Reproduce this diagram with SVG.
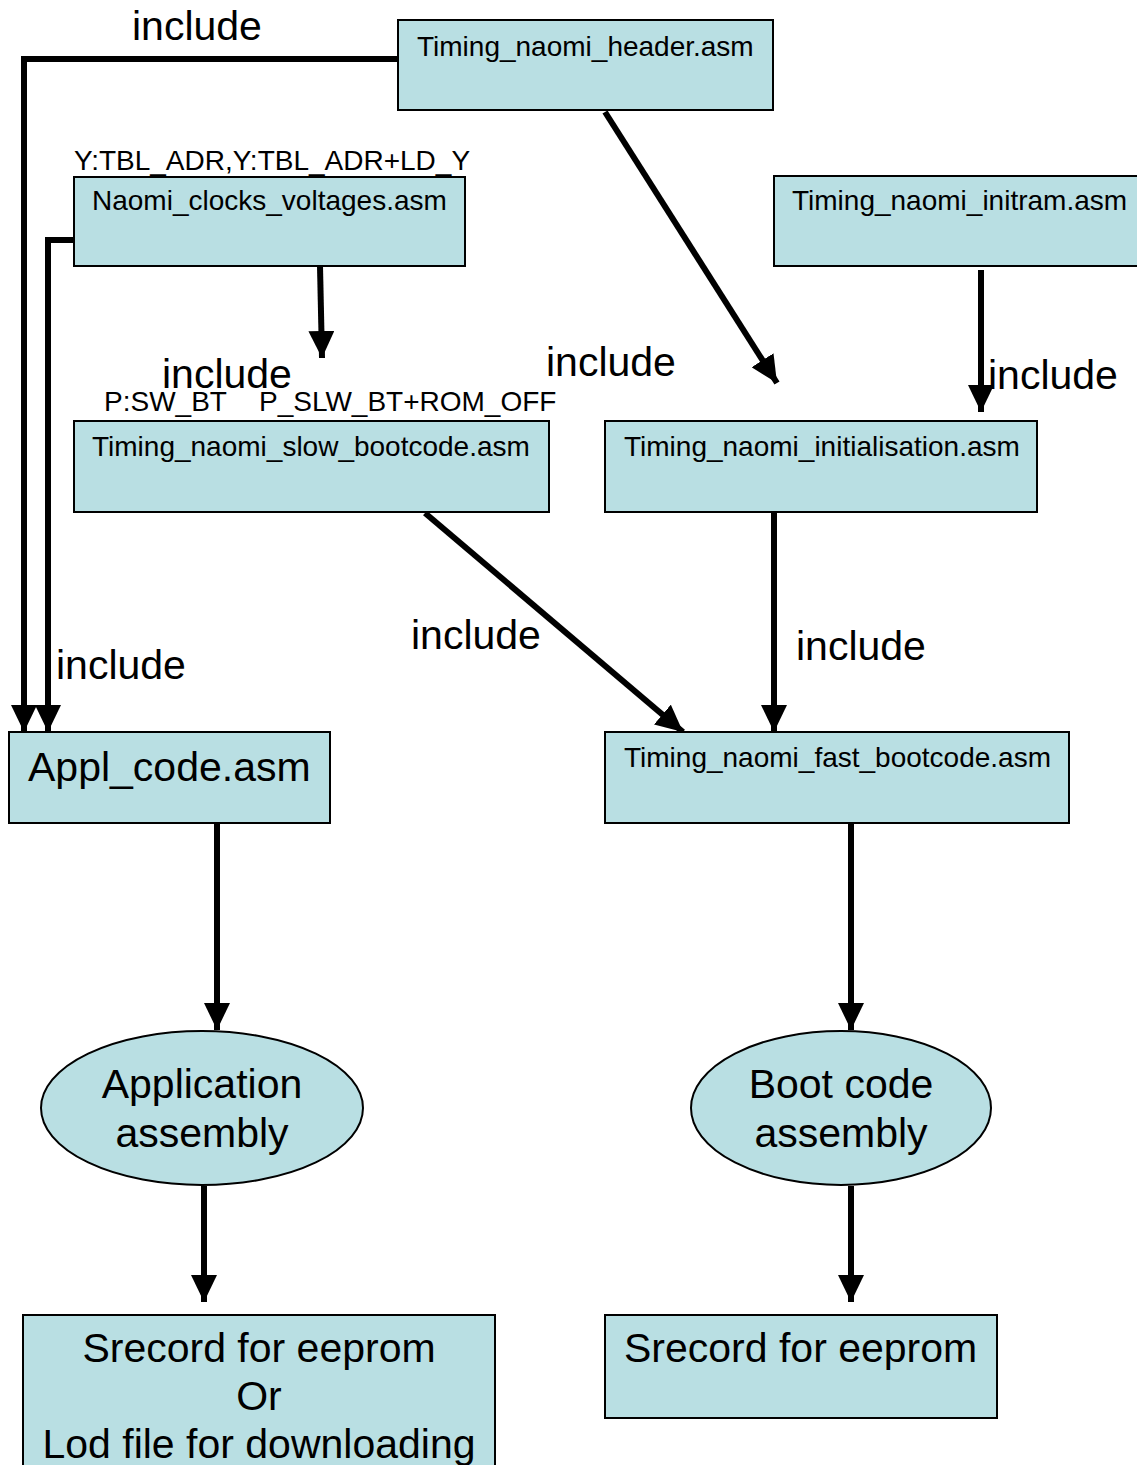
<svg xmlns="http://www.w3.org/2000/svg" width="1137" height="1465" viewBox="0 0 1137 1465">
  <style>
    .box { fill: #B9DFE3; stroke: #000; stroke-width: 2; }
    .lbl { font-family: "Liberation Sans", Arial, sans-serif; font-size: 28px; fill: #000; }
    .big { font-family: "Liberation Sans", Arial, sans-serif; font-size: 41px; fill: #000; }
    .mid { text-anchor: middle; }
    .edge { fill: none; stroke: #000; stroke-width: 6; stroke-linejoin: miter; marker-end: url(#arrow); }
  </style>
  <defs>
    <marker id="arrow" markerUnits="userSpaceOnUse" markerWidth="27" markerHeight="26" viewBox="0 0 27 26" refX="27" refY="13" orient="auto">
      <path d="M0,0 L27,13 L0,26 Z" fill="#000"/>
    </marker>
  </defs>
  <rect width="1137" height="1465" fill="#fff"/>

  <g id="connectors">
    <path class="edge" d="M398,59 H24 V732"/>
    <path class="edge" d="M74,240 H48 V732"/>
    <path class="edge" d="M320,266 L322,358"/>
    <path class="edge" d="M605,112 L777,383"/>
    <path class="edge" d="M981,270 V412"/>
    <path class="edge" d="M425,513 L683,732"/>
    <path class="edge" d="M774,513 V732"/>
    <path class="edge" d="M217,823 V1030"/>
    <path class="edge" d="M851,823 V1030"/>
    <path class="edge" d="M204,1186 V1302"/>
    <path class="edge" d="M851,1186 V1302"/>
  </g>

  <g id="edge-labels">
    <text class="big" x="132" y="40">include</text>
    <text class="big" x="162" y="388">include</text>
    <text class="big" x="546" y="376">include</text>
    <text class="big" x="988" y="389">include</text>
    <text class="big" x="411" y="649">include</text>
    <text class="big" x="796" y="660">include</text>
    <text class="big" x="56" y="679">include</text>
    <text class="lbl" x="74" y="170">Y:TBL_ADR,Y:TBL_ADR+LD_Y</text>
    <text class="lbl" x="104" y="411">P:SW_BT</text>
    <text class="lbl" x="259" y="411">P_SLW_BT+ROM_OFF</text>
  </g>

  <g id="node-header">
    <rect class="box" x="398" y="20" width="375" height="90"/>
    <text class="lbl" x="417" y="56">Timing_naomi_header.asm</text>
  </g>
  <g id="node-clocks">
    <rect class="box" x="74" y="177" width="391" height="89"/>
    <text class="lbl" x="92" y="210">Naomi_clocks_voltages.asm</text>
  </g>
  <g id="node-initram">
    <rect class="box" x="774" y="176" width="368" height="90"/>
    <text class="lbl" x="792" y="210">Timing_naomi_initram.asm</text>
  </g>
  <g id="node-slow">
    <rect class="box" x="74" y="421" width="475" height="91"/>
    <text class="lbl" x="92" y="456">Timing_naomi_slow_bootcode.asm</text>
  </g>
  <g id="node-init">
    <rect class="box" x="605" y="421" width="432" height="91"/>
    <text class="lbl" x="624" y="456">Timing_naomi_initialisation.asm</text>
  </g>
  <g id="node-appl">
    <rect class="box" x="9" y="732" width="321" height="91"/>
    <text class="big" x="28" y="781">Appl_code.asm</text>
  </g>
  <g id="node-fast">
    <rect class="box" x="605" y="732" width="464" height="91"/>
    <text class="lbl" x="624" y="767">Timing_naomi_fast_bootcode.asm</text>
  </g>
  <g id="node-app-asm">
    <ellipse class="box" cx="202" cy="1108" rx="161" ry="77"/>
    <text class="big mid" x="202" y="1098">Application</text>
    <text class="big mid" x="202" y="1147">assembly</text>
  </g>
  <g id="node-boot-asm">
    <ellipse class="box" cx="841" cy="1108" rx="150" ry="77"/>
    <text class="big mid" x="841" y="1098">Boot code</text>
    <text class="big mid" x="841" y="1147">assembly</text>
  </g>
  <g id="node-srec-app">
    <rect class="box" x="23" y="1315" width="472" height="160"/>
    <text class="big mid" x="259" y="1362">Srecord for eeprom</text>
    <text class="big mid" x="259" y="1410">Or</text>
    <text class="big mid" x="259" y="1458">Lod file for downloading</text>
  </g>
  <g id="node-srec-boot">
    <rect class="box" x="605" y="1315" width="392" height="103"/>
    <text class="big" x="624" y="1362">Srecord for eeprom</text>
  </g>
</svg>
